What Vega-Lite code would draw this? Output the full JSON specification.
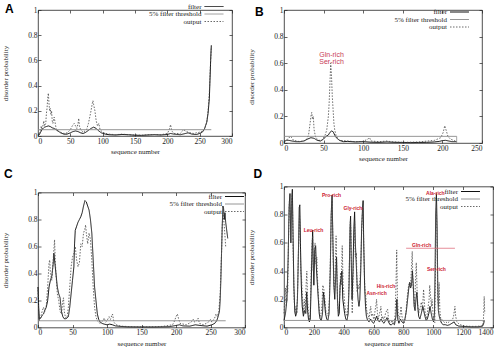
{
"$schema": "https://vega.github.io/schema/vega-lite/v6.json",
"padding": {"left": 1, "top": 2, "right": 0, "bottom": 0},
"datasets": {
"A": [
{"s":"filter","x":0,"y":0},{"s":"filter","x":2,"y":0.01},{"s":"filter","x":4,"y":0.03},{"s":"filter","x":6,"y":0.05},{"s":"filter","x":8,"y":0.06},{"s":"filter","x":10,"y":0.07},{"s":"filter","x":13,"y":0.075},{"s":"filter","x":16,"y":0.08},{"s":"filter","x":19,"y":0.075},{"s":"filter","x":22,"y":0.065},{"s":"filter","x":25,"y":0.06},{"s":"filter","x":28,"y":0.05},{"s":"filter","x":31,"y":0.04},{"s":"filter","x":35,"y":0.025},{"s":"filter","x":40,"y":0.015},{"s":"filter","x":45,"y":0.015},{"s":"filter","x":50,"y":0.025},{"s":"filter","x":54,"y":0.035},{"s":"filter","x":58,"y":0.04},{"s":"filter","x":62,"y":0.035},{"s":"filter","x":66,"y":0.025},{"s":"filter","x":70,"y":0.02},{"s":"filter","x":74,"y":0.03},{"s":"filter","x":78,"y":0.045},{"s":"filter","x":82,"y":0.06},{"s":"filter","x":86,"y":0.07},{"s":"filter","x":90,"y":0.06},{"s":"filter","x":94,"y":0.04},{"s":"filter","x":98,"y":0.025},{"s":"filter","x":104,"y":0.015},{"s":"filter","x":110,"y":0.01},{"s":"filter","x":120,"y":0.008},{"s":"filter","x":130,"y":0.012},{"s":"filter","x":140,"y":0.01},{"s":"filter","x":150,"y":0.006},{"s":"filter","x":160,"y":0.005},{"s":"filter","x":170,"y":0.008},{"s":"filter","x":180,"y":0.01},{"s":"filter","x":190,"y":0.008},{"s":"filter","x":200,"y":0.012},{"s":"filter","x":205,"y":0.02},{"s":"filter","x":210,"y":0.015},{"s":"filter","x":220,"y":0.01},{"s":"filter","x":228,"y":0.02},{"s":"filter","x":232,"y":0.025},{"s":"filter","x":238,"y":0.015},{"s":"filter","x":245,"y":0.012},{"s":"filter","x":250,"y":0.02},{"s":"filter","x":254,"y":0.03},{"s":"filter","x":257,"y":0.05},{"s":"filter","x":259,"y":0.08},{"s":"filter","x":261,"y":0.11},{"s":"filter","x":263,"y":0.18},{"s":"filter","x":264,"y":0.24},{"s":"filter","x":265,"y":0.3},{"s":"filter","x":266,"y":0.45},{"s":"filter","x":267,"y":0.6},{"s":"filter","x":268,"y":0.72},
{"s":"output","x":0,"y":0},{"s":"output","x":2,"y":0.01},{"s":"output","x":4,"y":0.05},{"s":"output","x":5,"y":0.08},{"s":"output","x":6,"y":0.05},{"s":"output","x":8,"y":0.09},{"s":"output","x":9,"y":0.12},{"s":"output","x":10,"y":0.08},{"s":"output","x":12,"y":0.1},{"s":"output","x":13,"y":0.18},{"s":"output","x":14,"y":0.22},{"s":"output","x":15,"y":0.3},{"s":"output","x":16,"y":0.34},{"s":"output","x":17,"y":0.26},{"s":"output","x":18,"y":0.2},{"s":"output","x":19,"y":0.22},{"s":"output","x":20,"y":0.17},{"s":"output","x":21,"y":0.2},{"s":"output","x":22,"y":0.12},{"s":"output","x":23,"y":0.1},{"s":"output","x":25,"y":0.15},{"s":"output","x":26,"y":0.12},{"s":"output","x":28,"y":0.06},{"s":"output","x":30,"y":0.04},{"s":"output","x":35,"y":0.03},{"s":"output","x":40,"y":0.02},{"s":"output","x":45,"y":0.025},{"s":"output","x":50,"y":0.05},{"s":"output","x":53,"y":0.08},{"s":"output","x":56,"y":0.1},{"s":"output","x":58,"y":0.08},{"s":"output","x":60,"y":0.06},{"s":"output","x":62,"y":0.1},{"s":"output","x":63,"y":0.14},{"s":"output","x":64,"y":0.08},{"s":"output","x":66,"y":0.05},{"s":"output","x":70,"y":0.03},{"s":"output","x":75,"y":0.05},{"s":"output","x":78,"y":0.1},{"s":"output","x":80,"y":0.15},{"s":"output","x":82,"y":0.2},{"s":"output","x":84,"y":0.26},{"s":"output","x":85,"y":0.28},{"s":"output","x":86,"y":0.25},{"s":"output","x":88,"y":0.2},{"s":"output","x":90,"y":0.12},{"s":"output","x":92,"y":0.08},{"s":"output","x":94,"y":0.1},{"s":"output","x":96,"y":0.05},{"s":"output","x":100,"y":0.03},{"s":"output","x":105,"y":0.02},{"s":"output","x":110,"y":0.015},{"s":"output","x":120,"y":0.01},{"s":"output","x":130,"y":0.015},{"s":"output","x":140,"y":0.01},{"s":"output","x":150,"y":0.008},{"s":"output","x":160,"y":0.006},{"s":"output","x":170,"y":0.01},{"s":"output","x":180,"y":0.012},{"s":"output","x":190,"y":0.01},{"s":"output","x":200,"y":0.02},{"s":"output","x":203,"y":0.05},{"s":"output","x":205,"y":0.09},{"s":"output","x":207,"y":0.04},{"s":"output","x":210,"y":0.02},{"s":"output","x":220,"y":0.02},{"s":"output","x":225,"y":0.05},{"s":"output","x":228,"y":0.04},{"s":"output","x":232,"y":0.03},{"s":"output","x":240,"y":0.02},{"s":"output","x":250,"y":0.03},{"s":"output","x":255,"y":0.04},{"s":"output","x":258,"y":0.06},{"s":"output","x":261,"y":0.11},{"s":"output","x":263,"y":0.2},{"s":"output","x":265,"y":0.35},{"s":"output","x":266,"y":0.48},{"s":"output","x":267,"y":0.6},{"s":"output","x":268,"y":0.7},
{"s":"5% filter threshold","x":0,"y":0.05},{"s":"5% filter threshold","x":268,"y":0.05}
],
"B": [
{"s":"filter","x":0,"y":0.01},{"s":"filter","x":3,"y":0.02},{"s":"filter","x":6,"y":0.02},{"s":"filter","x":10,"y":0.015},{"s":"filter","x":15,"y":0.01},{"s":"filter","x":20,"y":0.01},{"s":"filter","x":25,"y":0.015},{"s":"filter","x":30,"y":0.03},{"s":"filter","x":34,"y":0.04},{"s":"filter","x":38,"y":0.035},{"s":"filter","x":42,"y":0.02},{"s":"filter","x":46,"y":0.015},{"s":"filter","x":50,"y":0.03},{"s":"filter","x":53,"y":0.05},{"s":"filter","x":56,"y":0.06},{"s":"filter","x":58,"y":0.08},{"s":"filter","x":60,"y":0.09},{"s":"filter","x":62,"y":0.085},{"s":"filter","x":64,"y":0.06},{"s":"filter","x":66,"y":0.04},{"s":"filter","x":68,"y":0.03},{"s":"filter","x":70,"y":0.02},{"s":"filter","x":75,"y":0.01},{"s":"filter","x":80,"y":0.012},{"s":"filter","x":90,"y":0.008},{"s":"filter","x":100,"y":0.01},{"s":"filter","x":110,"y":0.006},{"s":"filter","x":120,"y":0.005},{"s":"filter","x":130,"y":0.008},{"s":"filter","x":140,"y":0.005},{"s":"filter","x":150,"y":0.004},{"s":"filter","x":160,"y":0.003},{"s":"filter","x":170,"y":0.004},{"s":"filter","x":180,"y":0.005},{"s":"filter","x":190,"y":0.008},{"s":"filter","x":196,"y":0.012},{"s":"filter","x":200,"y":0.018},{"s":"filter","x":204,"y":0.02},{"s":"filter","x":208,"y":0.015},{"s":"filter","x":212,"y":0.01},{"s":"filter","x":218,"y":0.01},
{"s":"output","x":0,"y":0.01},{"s":"output","x":5,"y":0.03},{"s":"output","x":8,"y":0.05},{"s":"output","x":10,"y":0.04},{"s":"output","x":12,"y":0.02},{"s":"output","x":20,"y":0.01},{"s":"output","x":28,"y":0.02},{"s":"output","x":31,"y":0.06},{"s":"output","x":33,"y":0.15},{"s":"output","x":34,"y":0.2},{"s":"output","x":35,"y":0.23},{"s":"output","x":36,"y":0.18},{"s":"output","x":37,"y":0.2},{"s":"output","x":38,"y":0.1},{"s":"output","x":40,"y":0.04},{"s":"output","x":44,"y":0.02},{"s":"output","x":48,"y":0.02},{"s":"output","x":52,"y":0.06},{"s":"output","x":54,"y":0.1},{"s":"output","x":56,"y":0.2},{"s":"output","x":57,"y":0.3},{"s":"output","x":58,"y":0.45},{"s":"output","x":59,"y":0.6},{"s":"output","x":60,"y":0.5},{"s":"output","x":61,"y":0.35},{"s":"output","x":62,"y":0.25},{"s":"output","x":63,"y":0.15},{"s":"output","x":64,"y":0.1},{"s":"output","x":66,"y":0.05},{"s":"output","x":70,"y":0.02},{"s":"output","x":80,"y":0.015},{"s":"output","x":90,"y":0.01},{"s":"output","x":100,"y":0.012},{"s":"output","x":106,"y":0.03},{"s":"output","x":108,"y":0.04},{"s":"output","x":110,"y":0.015},{"s":"output","x":120,"y":0.01},{"s":"output","x":130,"y":0.015},{"s":"output","x":135,"y":0.01},{"s":"output","x":150,"y":0.005},{"s":"output","x":170,"y":0.008},{"s":"output","x":190,"y":0.02},{"s":"output","x":198,"y":0.04},{"s":"output","x":201,"y":0.08},{"s":"output","x":203,"y":0.13},{"s":"output","x":205,"y":0.09},{"s":"output","x":207,"y":0.05},{"s":"output","x":210,"y":0.03},{"s":"output","x":214,"y":0.02},{"s":"output","x":218,"y":0.01},
{"s":"5% filter threshold","x":0,"y":0.05},{"s":"5% filter threshold","x":218,"y":0.05},{"s":"5% filter threshold","x":218,"y":0}
],
"C": [
{"s":"filter","x":0,"y":0.3},{"s":"filter","x":1,"y":0.15},{"s":"filter","x":2,"y":0.06},{"s":"filter","x":4,"y":0.07},{"s":"filter","x":6,"y":0.09},{"s":"filter","x":8,"y":0.1},{"s":"filter","x":10,"y":0.13},{"s":"filter","x":12,"y":0.15},{"s":"filter","x":14,"y":0.2},{"s":"filter","x":16,"y":0.3},{"s":"filter","x":18,"y":0.35},{"s":"filter","x":20,"y":0.38},{"s":"filter","x":22,"y":0.47},{"s":"filter","x":23,"y":0.55},{"s":"filter","x":24,"y":0.5},{"s":"filter","x":26,"y":0.4},{"s":"filter","x":28,"y":0.3},{"s":"filter","x":30,"y":0.25},{"s":"filter","x":32,"y":0.22},{"s":"filter","x":34,"y":0.12},{"s":"filter","x":36,"y":0.08},{"s":"filter","x":38,"y":0.065},{"s":"filter","x":40,"y":0.065},{"s":"filter","x":42,"y":0.07},{"s":"filter","x":44,"y":0.08},{"s":"filter","x":46,"y":0.15},{"s":"filter","x":48,"y":0.25},{"s":"filter","x":50,"y":0.35},{"s":"filter","x":52,"y":0.45},{"s":"filter","x":53,"y":0.62},{"s":"filter","x":54,"y":0.72},{"s":"filter","x":56,"y":0.75},{"s":"filter","x":58,"y":0.78},{"s":"filter","x":60,"y":0.8},{"s":"filter","x":62,"y":0.82},{"s":"filter","x":64,"y":0.85},{"s":"filter","x":66,"y":0.9},{"s":"filter","x":68,"y":0.94},{"s":"filter","x":70,"y":0.93},{"s":"filter","x":72,"y":0.9},{"s":"filter","x":74,"y":0.87},{"s":"filter","x":76,"y":0.8},{"s":"filter","x":78,"y":0.7},{"s":"filter","x":80,"y":0.5},{"s":"filter","x":82,"y":0.3},{"s":"filter","x":84,"y":0.2},{"s":"filter","x":86,"y":0.1},{"s":"filter","x":88,"y":0.06},{"s":"filter","x":90,"y":0.04},{"s":"filter","x":93,"y":0.03},{"s":"filter","x":96,"y":0.025},{"s":"filter","x":100,"y":0.02},{"s":"filter","x":104,"y":0.025},{"s":"filter","x":108,"y":0.02},{"s":"filter","x":112,"y":0.012},{"s":"filter","x":120,"y":0.008},{"s":"filter","x":130,"y":0.005},{"s":"filter","x":150,"y":0.004},{"s":"filter","x":170,"y":0.004},{"s":"filter","x":190,"y":0.006},{"s":"filter","x":200,"y":0.015},{"s":"filter","x":205,"y":0.02},{"s":"filter","x":210,"y":0.012},{"s":"filter","x":220,"y":0.01},{"s":"filter","x":228,"y":0.02},{"s":"filter","x":235,"y":0.015},{"s":"filter","x":245,"y":0.01},{"s":"filter","x":252,"y":0.02},{"s":"filter","x":256,"y":0.03},{"s":"filter","x":259,"y":0.05},{"s":"filter","x":261,"y":0.08},{"s":"filter","x":263,"y":0.12},{"s":"filter","x":264,"y":0.2},{"s":"filter","x":265,"y":0.35},{"s":"filter","x":266,"y":0.55},{"s":"filter","x":267,"y":0.75},{"s":"filter","x":268,"y":0.9},{"s":"filter","x":269,"y":0.88},{"s":"filter","x":270,"y":0.8},{"s":"filter","x":271,"y":0.85},{"s":"filter","x":272,"y":0.78},{"s":"filter","x":275,"y":0.66},
{"s":"output","x":0,"y":0.3},{"s":"output","x":1,"y":0.1},{"s":"output","x":2,"y":0.05},{"s":"output","x":4,"y":0.08},{"s":"output","x":6,"y":0.12},{"s":"output","x":8,"y":0.15},{"s":"output","x":10,"y":0.12},{"s":"output","x":12,"y":0.16},{"s":"output","x":14,"y":0.3},{"s":"output","x":16,"y":0.48},{"s":"output","x":17,"y":0.5},{"s":"output","x":18,"y":0.4},{"s":"output","x":20,"y":0.35},{"s":"output","x":22,"y":0.5},{"s":"output","x":24,"y":0.65},{"s":"output","x":25,"y":0.5},{"s":"output","x":26,"y":0.4},{"s":"output","x":28,"y":0.25},{"s":"output","x":30,"y":0.2},{"s":"output","x":32,"y":0.12},{"s":"output","x":34,"y":0.1},{"s":"output","x":36,"y":0.2},{"s":"output","x":37,"y":0.22},{"s":"output","x":38,"y":0.12},{"s":"output","x":40,"y":0.07},{"s":"output","x":42,"y":0.07},{"s":"output","x":44,"y":0.15},{"s":"output","x":46,"y":0.3},{"s":"output","x":48,"y":0.45},{"s":"output","x":50,"y":0.52},{"s":"output","x":52,"y":0.55},{"s":"output","x":54,"y":0.6},{"s":"output","x":56,"y":0.5},{"s":"output","x":58,"y":0.45},{"s":"output","x":60,"y":0.48},{"s":"output","x":62,"y":0.62},{"s":"output","x":64,"y":0.6},{"s":"output","x":66,"y":0.7},{"s":"output","x":68,"y":0.73},{"s":"output","x":69,"y":0.76},{"s":"output","x":70,"y":0.7},{"s":"output","x":72,"y":0.62},{"s":"output","x":74,"y":0.7},{"s":"output","x":76,"y":0.65},{"s":"output","x":78,"y":0.5},{"s":"output","x":80,"y":0.3},{"s":"output","x":82,"y":0.15},{"s":"output","x":84,"y":0.08},{"s":"output","x":86,"y":0.05},{"s":"output","x":90,"y":0.03},{"s":"output","x":94,"y":0.05},{"s":"output","x":96,"y":0.07},{"s":"output","x":98,"y":0.04},{"s":"output","x":100,"y":0.05},{"s":"output","x":103,"y":0.08},{"s":"output","x":105,"y":0.06},{"s":"output","x":107,"y":0.09},{"s":"output","x":108,"y":0.1},{"s":"output","x":110,"y":0.04},{"s":"output","x":113,"y":0.02},{"s":"output","x":120,"y":0.01},{"s":"output","x":140,"y":0.005},{"s":"output","x":160,"y":0.005},{"s":"output","x":180,"y":0.008},{"s":"output","x":195,"y":0.02},{"s":"output","x":198,"y":0.05},{"s":"output","x":200,"y":0.08},{"s":"output","x":202,"y":0.1},{"s":"output","x":204,"y":0.06},{"s":"output","x":206,"y":0.03},{"s":"output","x":215,"y":0.02},{"s":"output","x":222,"y":0.04},{"s":"output","x":225,"y":0.06},{"s":"output","x":227,"y":0.04},{"s":"output","x":230,"y":0.05},{"s":"output","x":232,"y":0.07},{"s":"output","x":234,"y":0.03},{"s":"output","x":240,"y":0.02},{"s":"output","x":247,"y":0.04},{"s":"output","x":250,"y":0.06},{"s":"output","x":252,"y":0.04},{"s":"output","x":256,"y":0.07},{"s":"output","x":258,"y":0.1},{"s":"output","x":260,"y":0.08},{"s":"output","x":262,"y":0.12},{"s":"output","x":264,"y":0.25},{"s":"output","x":266,"y":0.55},{"s":"output","x":267,"y":0.75},{"s":"output","x":268,"y":0.85},{"s":"output","x":269,"y":0.8},{"s":"output","x":270,"y":0.75},{"s":"output","x":272,"y":0.6},
{"s":"5% filter threshold","x":0,"y":0.05},{"s":"5% filter threshold","x":272,"y":0.05}
],
"D": [
{"s":"filter","x":0,"y":0.05},{"s":"filter","x":10,"y":0.1},{"s":"filter","x":20,"y":0.2},{"s":"filter","x":28,"y":0.5},{"s":"filter","x":34,"y":0.85},{"s":"filter","x":40,"y":0.95},{"s":"filter","x":46,"y":0.6},{"s":"filter","x":52,"y":0.9},{"s":"filter","x":56,"y":0.98},{"s":"filter","x":60,"y":0.7},{"s":"filter","x":66,"y":0.3},{"s":"filter","x":72,"y":0.12},{"s":"filter","x":78,"y":0.08},{"s":"filter","x":84,"y":0.1},{"s":"filter","x":90,"y":0.2},{"s":"filter","x":96,"y":0.5},{"s":"filter","x":102,"y":0.85},{"s":"filter","x":106,"y":0.87},{"s":"filter","x":110,"y":0.6},{"s":"filter","x":116,"y":0.3},{"s":"filter","x":122,"y":0.15},{"s":"filter","x":130,"y":0.08},{"s":"filter","x":138,"y":0.12},{"s":"filter","x":146,"y":0.1},{"s":"filter","x":152,"y":0.25},{"s":"filter","x":158,"y":0.12},{"s":"filter","x":164,"y":0.06},{"s":"filter","x":170,"y":0.04},{"s":"filter","x":176,"y":0.06},{"s":"filter","x":182,"y":0.3},{"s":"filter","x":188,"y":0.55},{"s":"filter","x":192,"y":0.69},{"s":"filter","x":196,"y":0.45},{"s":"filter","x":200,"y":0.3},{"s":"filter","x":206,"y":0.55},{"s":"filter","x":212,"y":0.58},{"s":"filter","x":218,"y":0.4},{"s":"filter","x":224,"y":0.3},{"s":"filter","x":230,"y":0.2},{"s":"filter","x":236,"y":0.1},{"s":"filter","x":242,"y":0.06},{"s":"filter","x":250,"y":0.05},{"s":"filter","x":258,"y":0.1},{"s":"filter","x":264,"y":0.25},{"s":"filter","x":270,"y":0.2},{"s":"filter","x":278,"y":0.1},{"s":"filter","x":286,"y":0.06},{"s":"filter","x":294,"y":0.05},{"s":"filter","x":302,"y":0.1},{"s":"filter","x":310,"y":0.4},{"s":"filter","x":316,"y":0.8},{"s":"filter","x":322,"y":0.94},{"s":"filter","x":328,"y":0.6},{"s":"filter","x":334,"y":0.3},{"s":"filter","x":340,"y":0.2},{"s":"filter","x":346,"y":0.35},{"s":"filter","x":352,"y":0.5},{"s":"filter","x":358,"y":0.2},{"s":"filter","x":364,"y":0.08},{"s":"filter","x":370,"y":0.1},{"s":"filter","x":376,"y":0.3},{"s":"filter","x":382,"y":0.35},{"s":"filter","x":388,"y":0.4},{"s":"filter","x":394,"y":0.2},{"s":"filter","x":400,"y":0.15},{"s":"filter","x":406,"y":0.1},{"s":"filter","x":414,"y":0.06},{"s":"filter","x":422,"y":0.05},{"s":"filter","x":430,"y":0.1},{"s":"filter","x":436,"y":0.3},{"s":"filter","x":442,"y":0.7},{"s":"filter","x":446,"y":0.79},{"s":"filter","x":450,"y":0.5},{"s":"filter","x":456,"y":0.2},{"s":"filter","x":462,"y":0.4},{"s":"filter","x":468,"y":0.7},{"s":"filter","x":473,"y":0.82},{"s":"filter","x":478,"y":0.6},{"s":"filter","x":484,"y":0.45},{"s":"filter","x":490,"y":0.3},{"s":"filter","x":496,"y":0.2},{"s":"filter","x":502,"y":0.15},{"s":"filter","x":508,"y":0.2},{"s":"filter","x":514,"y":0.4},{"s":"filter","x":520,"y":0.7},{"s":"filter","x":526,"y":0.85},{"s":"filter","x":530,"y":0.9},{"s":"filter","x":534,"y":0.6},{"s":"filter","x":540,"y":0.3},{"s":"filter","x":546,"y":0.15},{"s":"filter","x":552,"y":0.08},{"s":"filter","x":560,"y":0.05},{"s":"filter","x":570,"y":0.04},{"s":"filter","x":580,"y":0.06},{"s":"filter","x":590,"y":0.04},{"s":"filter","x":600,"y":0.03},{"s":"filter","x":610,"y":0.05},{"s":"filter","x":620,"y":0.08},{"s":"filter","x":630,"y":0.05},{"s":"filter","x":640,"y":0.04},{"s":"filter","x":650,"y":0.06},{"s":"filter","x":660,"y":0.04},{"s":"filter","x":670,"y":0.03},{"s":"filter","x":680,"y":0.05},{"s":"filter","x":690,"y":0.07},{"s":"filter","x":700,"y":0.04},{"s":"filter","x":710,"y":0.02},{"s":"filter","x":720,"y":0.02},{"s":"filter","x":730,"y":0.03},{"s":"filter","x":740,"y":0.02},{"s":"filter","x":750,"y":0.08},{"s":"filter","x":756,"y":0.2},{"s":"filter","x":762,"y":0.06},{"s":"filter","x":770,"y":0.03},{"s":"filter","x":780,"y":0.06},{"s":"filter","x":790,"y":0.04},{"s":"filter","x":800,"y":0.03},{"s":"filter","x":810,"y":0.06},{"s":"filter","x":820,"y":0.12},{"s":"filter","x":828,"y":0.2},{"s":"filter","x":836,"y":0.28},{"s":"filter","x":842,"y":0.32},{"s":"filter","x":848,"y":0.28},{"s":"filter","x":854,"y":0.3},{"s":"filter","x":860,"y":0.4},{"s":"filter","x":866,"y":0.3},{"s":"filter","x":872,"y":0.15},{"s":"filter","x":878,"y":0.12},{"s":"filter","x":884,"y":0.2},{"s":"filter","x":890,"y":0.25},{"s":"filter","x":896,"y":0.15},{"s":"filter","x":902,"y":0.08},{"s":"filter","x":910,"y":0.06},{"s":"filter","x":920,"y":0.1},{"s":"filter","x":930,"y":0.15},{"s":"filter","x":936,"y":0.12},{"s":"filter","x":944,"y":0.08},{"s":"filter","x":952,"y":0.05},{"s":"filter","x":960,"y":0.06},{"s":"filter","x":970,"y":0.1},{"s":"filter","x":978,"y":0.15},{"s":"filter","x":986,"y":0.1},{"s":"filter","x":994,"y":0.06},{"s":"filter","x":1002,"y":0.04},{"s":"filter","x":1008,"y":0.1},{"s":"filter","x":1012,"y":0.4},{"s":"filter","x":1016,"y":0.8},{"s":"filter","x":1021,"y":0.95},{"s":"filter","x":1026,"y":0.7},{"s":"filter","x":1030,"y":0.3},{"s":"filter","x":1034,"y":0.12},{"s":"filter","x":1040,"y":0.08},{"s":"filter","x":1048,"y":0.05},{"s":"filter","x":1056,"y":0.03},{"s":"filter","x":1066,"y":0.02},{"s":"filter","x":1080,"y":0.02},{"s":"filter","x":1095,"y":0.015},{"s":"filter","x":1110,"y":0.02},{"s":"filter","x":1125,"y":0.03},{"s":"filter","x":1140,"y":0.04},{"s":"filter","x":1150,"y":0.02},{"s":"filter","x":1170,"y":0.01},{"s":"filter","x":1200,"y":0.008},{"s":"filter","x":1250,"y":0.005},{"s":"filter","x":1300,"y":0.005},{"s":"filter","x":1330,"y":0.01},{"s":"filter","x":1338,"y":0.03},{"s":"filter","x":1342,"y":0.05},
{"s":"output","x":0,"y":0.1},{"s":"output","x":5,"y":0.2},{"s":"output","x":10,"y":0.28},{"s":"output","x":15,"y":0.15},{"s":"output","x":20,"y":0.3},{"s":"output","x":25,"y":0.25},{"s":"output","x":30,"y":0.6},{"s":"output","x":36,"y":0.9},{"s":"output","x":42,"y":0.75},{"s":"output","x":48,"y":0.85},{"s":"output","x":54,"y":0.95},{"s":"output","x":58,"y":0.8},{"s":"output","x":62,"y":0.5},{"s":"output","x":68,"y":0.2},{"s":"output","x":74,"y":0.1},{"s":"output","x":80,"y":0.15},{"s":"output","x":86,"y":0.1},{"s":"output","x":92,"y":0.3},{"s":"output","x":98,"y":0.6},{"s":"output","x":104,"y":0.8},{"s":"output","x":108,"y":0.7},{"s":"output","x":112,"y":0.4},{"s":"output","x":118,"y":0.34},{"s":"output","x":124,"y":0.2},{"s":"output","x":130,"y":0.1},{"s":"output","x":136,"y":0.2},{"s":"output","x":142,"y":0.1},{"s":"output","x":148,"y":0.3},{"s":"output","x":153,"y":0.4},{"s":"output","x":158,"y":0.2},{"s":"output","x":164,"y":0.1},{"s":"output","x":170,"y":0.05},{"s":"output","x":176,"y":0.1},{"s":"output","x":182,"y":0.4},{"s":"output","x":188,"y":0.6},{"s":"output","x":192,"y":0.65},{"s":"output","x":196,"y":0.4},{"s":"output","x":202,"y":0.5},{"s":"output","x":208,"y":0.6},{"s":"output","x":214,"y":0.45},{"s":"output","x":220,"y":0.5},{"s":"output","x":226,"y":0.3},{"s":"output","x":232,"y":0.2},{"s":"output","x":238,"y":0.1},{"s":"output","x":246,"y":0.08},{"s":"output","x":254,"y":0.15},{"s":"output","x":260,"y":0.3},{"s":"output","x":266,"y":0.28},{"s":"output","x":272,"y":0.22},{"s":"output","x":280,"y":0.12},{"s":"output","x":288,"y":0.1},{"s":"output","x":296,"y":0.08},{"s":"output","x":304,"y":0.2},{"s":"output","x":312,"y":0.55},{"s":"output","x":318,"y":0.85},{"s":"output","x":322,"y":0.9},{"s":"output","x":326,"y":0.7},{"s":"output","x":332,"y":0.34},{"s":"output","x":338,"y":0.25},{"s":"output","x":344,"y":0.45},{"s":"output","x":349,"y":0.65},{"s":"output","x":354,"y":0.4},{"s":"output","x":360,"y":0.15},{"s":"output","x":366,"y":0.1},{"s":"output","x":372,"y":0.2},{"s":"output","x":379,"y":0.39},{"s":"output","x":384,"y":0.3},{"s":"output","x":390,"y":0.58},{"s":"output","x":396,"y":0.3},{"s":"output","x":401,"y":0.25},{"s":"output","x":408,"y":0.15},{"s":"output","x":416,"y":0.1},{"s":"output","x":424,"y":0.08},{"s":"output","x":432,"y":0.2},{"s":"output","x":438,"y":0.45},{"s":"output","x":444,"y":0.75},{"s":"output","x":448,"y":0.7},{"s":"output","x":452,"y":0.4},{"s":"output","x":457,"y":0.1},{"s":"output","x":462,"y":0.3},{"s":"output","x":468,"y":0.6},{"s":"output","x":473,"y":0.75},{"s":"output","x":478,"y":0.5},{"s":"output","x":485,"y":0.53},{"s":"output","x":490,"y":0.25},{"s":"output","x":496,"y":0.3},{"s":"output","x":503,"y":0.27},{"s":"output","x":510,"y":0.35},{"s":"output","x":516,"y":0.5},{"s":"output","x":522,"y":0.75},{"s":"output","x":528,"y":0.85},{"s":"output","x":532,"y":0.7},{"s":"output","x":538,"y":0.4},{"s":"output","x":543,"y":0.25},{"s":"output","x":548,"y":0.22},{"s":"output","x":554,"y":0.12},{"s":"output","x":560,"y":0.1},{"s":"output","x":570,"y":0.06},{"s":"output","x":576,"y":0.12},{"s":"output","x":581,"y":0.15},{"s":"output","x":586,"y":0.08},{"s":"output","x":594,"y":0.1},{"s":"output","x":600,"y":0.06},{"s":"output","x":604,"y":0.06},{"s":"output","x":610,"y":0.12},{"s":"output","x":615,"y":0.15},{"s":"output","x":620,"y":0.2},{"s":"output","x":626,"y":0.1},{"s":"output","x":632,"y":0.06},{"s":"output","x":640,"y":0.1},{"s":"output","x":645,"y":0.12},{"s":"output","x":649,"y":0.15},{"s":"output","x":655,"y":0.06},{"s":"output","x":662,"y":0.08},{"s":"output","x":668,"y":0.05},{"s":"output","x":672,"y":0.06},{"s":"output","x":680,"y":0.1},{"s":"output","x":688,"y":0.12},{"s":"output","x":694,"y":0.13},{"s":"output","x":700,"y":0.06},{"s":"output","x":708,"y":0.04},{"s":"output","x":717,"y":0.035},{"s":"output","x":725,"y":0.05},{"s":"output","x":732,"y":0.03},{"s":"output","x":739,"y":0.035},{"s":"output","x":745,"y":0.1},{"s":"output","x":750,"y":0.3},{"s":"output","x":755,"y":0.55},{"s":"output","x":760,"y":0.2},{"s":"output","x":766,"y":0.08},{"s":"output","x":773,"y":0.06},{"s":"output","x":779,"y":0.1},{"s":"output","x":784,"y":0.15},{"s":"output","x":790,"y":0.08},{"s":"output","x":798,"y":0.05},{"s":"output","x":807,"y":0.035},{"s":"output","x":815,"y":0.08},{"s":"output","x":822,"y":0.18},{"s":"output","x":829,"y":0.25},{"s":"output","x":835,"y":0.3},{"s":"output","x":841,"y":0.32},{"s":"output","x":846,"y":0.28},{"s":"output","x":852,"y":0.38},{"s":"output","x":859,"y":0.54},{"s":"output","x":864,"y":0.3},{"s":"output","x":869,"y":0.22},{"s":"output","x":874,"y":0.15},{"s":"output","x":880,"y":0.3},{"s":"output","x":886,"y":0.46},{"s":"output","x":892,"y":0.25},{"s":"output","x":897,"y":0.15},{"s":"output","x":901,"y":0.1},{"s":"output","x":908,"y":0.12},{"s":"output","x":914,"y":0.15},{"s":"output","x":920,"y":0.18},{"s":"output","x":927,"y":0.12},{"s":"output","x":935,"y":0.27},{"s":"output","x":942,"y":0.15},{"s":"output","x":948,"y":0.08},{"s":"output","x":953,"y":0.06},{"s":"output","x":960,"y":0.1},{"s":"output","x":966,"y":0.15},{"s":"output","x":972,"y":0.2},{"s":"output","x":976,"y":0.3},{"s":"output","x":982,"y":0.22},{"s":"output","x":988,"y":0.15},{"s":"output","x":992,"y":0.2},{"s":"output","x":998,"y":0.1},{"s":"output","x":1004,"y":0.05},{"s":"output","x":1010,"y":0.035},{"s":"output","x":1014,"y":0.3},{"s":"output","x":1018,"y":0.7},{"s":"output","x":1021,"y":0.85},{"s":"output","x":1025,"y":0.6},{"s":"output","x":1030,"y":0.2},{"s":"output","x":1035,"y":0.15},{"s":"output","x":1039,"y":0.32},{"s":"output","x":1044,"y":0.12},{"s":"output","x":1050,"y":0.06},{"s":"output","x":1055,"y":0.06},{"s":"output","x":1062,"y":0.05},{"s":"output","x":1070,"y":0.04},{"s":"output","x":1077,"y":0.035},{"s":"output","x":1085,"y":0.04},{"s":"output","x":1095,"y":0.03},{"s":"output","x":1105,"y":0.04},{"s":"output","x":1115,"y":0.05},{"s":"output","x":1122,"y":0.05},{"s":"output","x":1130,"y":0.06},{"s":"output","x":1136,"y":0.08},{"s":"output","x":1141,"y":0.12},{"s":"output","x":1145,"y":0.15},{"s":"output","x":1150,"y":0.08},{"s":"output","x":1158,"y":0.04},{"s":"output","x":1167,"y":0.03},{"s":"output","x":1180,"y":0.02},{"s":"output","x":1195,"y":0.015},{"s":"output","x":1210,"y":0.01},{"s":"output","x":1224,"y":0.01},{"s":"output","x":1250,"y":0.008},{"s":"output","x":1280,"y":0.008},{"s":"output","x":1310,"y":0.01},{"s":"output","x":1330,"y":0.01},{"s":"output","x":1336,"y":0.05},{"s":"output","x":1339,"y":0.15},{"s":"output","x":1341,"y":0.22},{"s":"output","x":1343,"y":0.15},{"s":"output","x":1345,"y":0.1},
{"s":"5% filter threshold","x":0,"y":0.05},{"s":"5% filter threshold","x":1345,"y":0.05}
],
"Bann": [{"x":60,"y":0.66,"t":"Gln-rich"},{"x":60,"y":0.61,"t":"Ser-rich"}],
"Dann": [{"x":198,"y":0.69,"t":"Leu-rich"},{"x":318,"y":0.94,"t":"Pro-rich"},{"x":462,"y":0.85,"t":"Gly-rich"},{"x":683,"y":0.294,"t":"His-rich"},{"x":620,"y":0.247,"t":"Asn-rich"},{"x":922,"y":0.588,"t":"Gln-rich"},{"x":1021,"y":0.416,"t":"Ser-rich"},{"x":1014,"y":0.953,"t":"Ala-rich"}],
"Drule": [{"x":818,"x2":1145,"y":0.562}]
},
"resolve": {"scale": {"color": "independent", "strokeDash": "independent", "strokeWidth": "independent"}, "legend": {"color": "independent", "strokeDash": "independent"}},
"hconcat": [
{"spacing": 11.5,
 "resolve": {"scale": {"color": "independent", "strokeDash": "independent", "strokeWidth": "independent"}, "legend": {"color": "independent", "strokeDash": "independent"}},
 "vconcat": [
{"width": 194, "height": 126, "title": {"text": "A", "dx": -33, "dy": 17.5},
 "layer": [
  {"data": {"name": "A"}, "transform": [{"filter": "datum.s !== '5% filter threshold'"}], "mark": "line",
   "encoding": {
    "x": {"field": "x", "type": "quantitative", "scale": {"domain": [0, 300], "nice": false, "zero": false}, "axis": {"values": [0,50,100,150,200,250,300], "title": "sequence number"}},
    "y": {"field": "y", "type": "quantitative", "scale": {"domain": [0, 1], "nice": false}, "axis": {"values": [0,0.2,0.4,0.6,0.8,1], "format": "~g", "title": "disorder probability"}},
    "color": {"field": "s", "type": "nominal", "scale": {"domain": ["filter","5% filter threshold","output"], "range": ["#111111","#8a8a8a","#444444"]}, "legend": {"orient": "none", "legendX": 162.5, "legendY": -7.5, "title": null, "symbolType": "M0,0H6"}},
    "strokeDash": {"field": "s", "type": "nominal", "scale": {"domain": ["filter","5% filter threshold","output"], "range": [[1,0],[1,0],[1.5,1.5]]}, "legend": {"orient": "none", "legendX": 162.5, "legendY": -7.5, "title": null, "symbolType": "M0,0H6"}},
    "strokeWidth": {"field": "s", "type": "nominal", "scale": {"domain": ["filter","5% filter threshold","output"], "range": [1.0,0.8,0.9]}, "legend": null}
   }},
  {"data": {"name": "A"}, "transform": [{"filter": "datum.s === '5% filter threshold'"}], "mark": "line",
   "encoding": {
    "x": {"field": "x", "type": "quantitative", "axis": {"orient": "top", "values": [0,50,100,150,200,250,300], "labels": false, "title": null}},
    "y": {"field": "y", "type": "quantitative", "axis": {"orient": "right", "values": [0,0.2,0.4,0.6,0.8,1], "labels": false, "title": null}},
    "color": {"field": "s", "type": "nominal", "legend": {"orient": "none", "legendX": 162.5, "legendY": -7.5, "title": null, "symbolType": "M0,0H6"}},
    "strokeDash": {"field": "s", "type": "nominal", "legend": {"orient": "none", "legendX": 162.5, "legendY": -7.5, "title": null, "symbolType": "M0,0H6"}},
    "strokeWidth": {"field": "s", "type": "nominal", "legend": null}
   }}
 ],
 "resolve": {"axis": {"x": "independent", "y": "independent"}}
},
{"width": 207, "height": 135, "title": {"text": "C", "dx": -34, "dy": -4},
 "layer": [
  {"data": {"name": "C"}, "transform": [{"filter": "datum.s !== '5% filter threshold'"}], "mark": "line",
   "encoding": {
    "x": {"field": "x", "type": "quantitative", "scale": {"domain": [0, 300], "nice": false, "zero": false}, "axis": {"values": [0,50,100,150,200,250,300], "title": "sequence number"}},
    "y": {"field": "y", "type": "quantitative", "scale": {"domain": [0, 1], "nice": false}, "axis": {"values": [0,0.2,0.4,0.6,0.8,1], "format": "~g", "title": "disorder probability"}},
    "color": {"field": "s", "type": "nominal", "scale": {"domain": ["filter","5% filter threshold","output"], "range": ["#111111","#8a8a8a","#444444"]}, "legend": {"orient": "none", "legendX": 183, "legendY": 0, "title": null, "symbolType": "M0,0H6"}},
    "strokeDash": {"field": "s", "type": "nominal", "scale": {"domain": ["filter","5% filter threshold","output"], "range": [[1,0],[1,0],[1.5,1.5]]}, "legend": {"orient": "none", "legendX": 183, "legendY": 0, "title": null, "symbolType": "M0,0H6"}},
    "strokeWidth": {"field": "s", "type": "nominal", "scale": {"domain": ["filter","5% filter threshold","output"], "range": [1.0,0.8,0.9]}, "legend": null}
   }},
  {"data": {"name": "C"}, "transform": [{"filter": "datum.s === '5% filter threshold'"}], "mark": "line",
   "encoding": {
    "x": {"field": "x", "type": "quantitative", "axis": {"orient": "top", "values": [0,50,100,150,200,250,300], "labels": false, "title": null}},
    "y": {"field": "y", "type": "quantitative", "axis": {"orient": "right", "values": [0,0.2,0.4,0.6,0.8,1], "labels": false, "title": null}},
    "color": {"field": "s", "type": "nominal", "legend": {"orient": "none", "legendX": 183, "legendY": 0, "title": null, "symbolType": "M0,0H6"}},
    "strokeDash": {"field": "s", "type": "nominal", "legend": {"orient": "none", "legendX": 183, "legendY": 0, "title": null, "symbolType": "M0,0H6"}},
    "strokeWidth": {"field": "s", "type": "nominal", "legend": null}
   }}
 ],
 "resolve": {"axis": {"x": "independent", "y": "independent"}}
}
]},
{"spacing": 4.5,
 "resolve": {"scale": {"color": "independent", "strokeDash": "independent", "strokeWidth": "independent"}, "legend": {"color": "independent", "strokeDash": "independent"}},
 "vconcat": [
{"width": 198, "height": 133, "title": {"text": "B", "dx": -29, "dy": 16.5},
 "layer": [
  {"data": {"name": "B"}, "transform": [{"filter": "datum.s !== '5% filter threshold'"}], "mark": "line",
   "encoding": {
    "x": {"field": "x", "type": "quantitative", "scale": {"domain": [0, 250], "nice": false, "zero": false}, "axis": {"values": [0,50,100,150,200,250], "title": "sequence number"}},
    "y": {"field": "y", "type": "quantitative", "scale": {"domain": [0, 1], "nice": false}, "axis": {"values": [0,0.2,0.4,0.6,0.8,1], "format": "~g", "title": "disorder probability"}},
    "color": {"field": "s", "type": "nominal", "scale": {"domain": ["filter","5% filter threshold","output"], "range": ["#111111","#8a8a8a","#444444"]}, "legend": {"orient": "none", "legendX": 162, "legendY": -2, "title": null, "symbolType": "M0,0H6"}},
    "strokeDash": {"field": "s", "type": "nominal", "scale": {"domain": ["filter","5% filter threshold","output"], "range": [[1,0],[1,0],[1.5,1.5]]}, "legend": {"orient": "none", "legendX": 162, "legendY": -2, "title": null, "symbolType": "M0,0H6"}},
    "strokeWidth": {"field": "s", "type": "nominal", "scale": {"domain": ["filter","5% filter threshold","output"], "range": [1.0,0.8,0.9]}, "legend": null}
   }},
  {"data": {"name": "B"}, "transform": [{"filter": "datum.s === '5% filter threshold'"}], "mark": "line",
   "encoding": {
    "x": {"field": "x", "type": "quantitative", "axis": {"orient": "top", "values": [0,50,100,150,200,250], "labels": false, "title": null}},
    "y": {"field": "y", "type": "quantitative", "axis": {"orient": "right", "values": [0,0.2,0.4,0.6,0.8,1], "labels": false, "title": null}},
    "color": {"field": "s", "type": "nominal", "legend": {"orient": "none", "legendX": 162, "legendY": -2, "title": null, "symbolType": "M0,0H6"}},
    "strokeDash": {"field": "s", "type": "nominal", "legend": {"orient": "none", "legendX": 162, "legendY": -2, "title": null, "symbolType": "M0,0H6"}},
    "strokeWidth": {"field": "s", "type": "nominal", "legend": null}
   }},
  {"data": {"name": "Bann"}, "mark": {"type": "text", "font": "Liberation Sans", "fontSize": 7, "color": "#c83a55", "baseline": "middle"},
   "encoding": {
    "x": {"field": "x", "type": "quantitative", "axis": null},
    "y": {"field": "y", "type": "quantitative", "axis": null},
    "text": {"field": "t"}
   }}
 ],
 "resolve": {"axis": {"x": "independent", "y": "independent"}}
},
{"width": 209, "height": 141, "title": {"text": "D", "dx": -30.5, "dy": 2},
 "layer": [
  {"data": {"name": "D"}, "transform": [{"filter": "datum.s !== '5% filter threshold'"}], "mark": "line",
   "encoding": {
    "x": {"field": "x", "type": "quantitative", "scale": {"domain": [0, 1400], "nice": false, "zero": false}, "axis": {"values": [0,200,400,600,800,1000,1200,1400], "format": "d", "title": "sequence number"}},
    "y": {"field": "y", "type": "quantitative", "scale": {"domain": [0, 1], "nice": false}, "axis": {"values": [0,0.2,0.4,0.6,0.8,1], "format": "~g", "title": "disorder probability"}},
    "color": {"field": "s", "type": "nominal", "scale": {"domain": ["filter","5% filter threshold","output"], "range": ["#111111","#8a8a8a","#444444"]}, "legend": {"orient": "none", "legendX": 173, "legendY": 1, "title": null, "symbolType": "M0,0H6"}},
    "strokeDash": {"field": "s", "type": "nominal", "scale": {"domain": ["filter","5% filter threshold","output"], "range": [[1,0],[1,0],[1.5,1.5]]}, "legend": {"orient": "none", "legendX": 173, "legendY": 1, "title": null, "symbolType": "M0,0H6"}},
    "strokeWidth": {"field": "s", "type": "nominal", "scale": {"domain": ["filter","5% filter threshold","output"], "range": [1.0,0.8,0.9]}, "legend": null}
   }},
  {"data": {"name": "D"}, "transform": [{"filter": "datum.s === '5% filter threshold'"}], "mark": "line",
   "encoding": {
    "x": {"field": "x", "type": "quantitative", "axis": {"orient": "top", "values": [0,200,400,600,800,1000,1200,1400], "labels": false, "title": null}},
    "y": {"field": "y", "type": "quantitative", "axis": {"orient": "right", "values": [0,0.2,0.4,0.6,0.8,1], "labels": false, "title": null}},
    "color": {"field": "s", "type": "nominal", "legend": {"orient": "none", "legendX": 173, "legendY": 1, "title": null, "symbolType": "M0,0H6"}},
    "strokeDash": {"field": "s", "type": "nominal", "legend": {"orient": "none", "legendX": 173, "legendY": 1, "title": null, "symbolType": "M0,0H6"}},
    "strokeWidth": {"field": "s", "type": "nominal", "legend": null}
   }},
  {"data": {"name": "Drule"}, "mark": {"type": "rule", "color": "#e07080", "strokeWidth": 0.8},
   "encoding": {
    "x": {"field": "x", "type": "quantitative", "axis": null},
    "x2": {"field": "x2"},
    "y": {"field": "y", "type": "quantitative", "axis": null}
   }},
  {"data": {"name": "Dann"}, "mark": {"type": "text", "font": "Liberation Sans", "fontSize": 5, "fontWeight": "bold", "color": "#cc2233", "baseline": "middle"},
   "encoding": {
    "x": {"field": "x", "type": "quantitative", "axis": null},
    "y": {"field": "y", "type": "quantitative", "axis": null},
    "text": {"field": "t"}
   }}
 ],
 "resolve": {"axis": {"x": "independent", "y": "independent"}}
}
]}
],
"spacing": 0,
"config": {
 "view": {"stroke": "#222222", "strokeWidth": 0.8},
 "axis": {"domain": false, "grid": false, "tickColor": "#222222", "tickSize": -3, "tickWidth": 0.7, "labelFont": "Liberation Serif", "labelFontSize": 7.5, "labelColor": "#222222", "labelPadding": 4, "titleFont": "Liberation Serif", "titleFontSize": 7, "titleFontWeight": "normal", "titleColor": "#222222"},
 "axisX": {"titlePadding": 3},
 "axisY": {"titlePadding": 19},
 "legend": {"labelFont": "Liberation Serif", "labelFontSize": 7, "labelColor": "#222222", "labelAlign": "right", "labelOffset": -7, "symbolSize": 40, "symbolStrokeWidth": 0.9, "rowPadding": 0.5, "padding": 0, "labelLimit": 200},
 "title": {"anchor": "start", "frame": "group", "offset": 0, "baseline": "alphabetic", "font": "Liberation Sans", "fontSize": 12, "fontWeight": "bold", "color": "#000000"}
}
}
